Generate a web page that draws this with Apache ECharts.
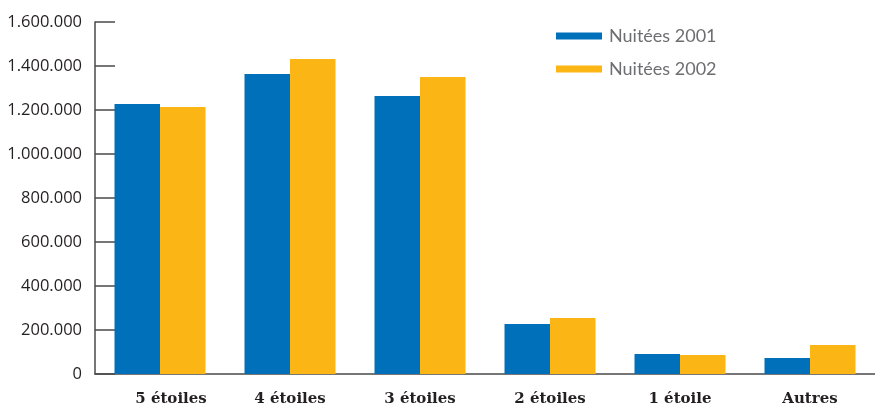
<!DOCTYPE html>
<html>
<head>
<meta charset="utf-8">
<script src="https://cdn.jsdelivr.net/npm/echarts@6/dist/echarts.min.js"></script>
<style>
  html, body { margin: 0; padding: 0; background: #ffffff; }
  #chart { width: 875px; height: 407px; }
</style>
</head>
<body>
<div id="chart"></div>
<script>
// Nuitées par catégorie d'hébergement, 2001 et 2002
const categories = ['5 étoiles', '4 étoiles', '3 étoiles', '2 étoiles', '1 étoile', 'Autres'];
const nuitees2001 = [1227000, 1364000, 1264000, 227000, 91000, 73000];
const nuitees2002 = [1214000, 1432000, 1350000, 254000, 86000, 132000];
const seriesNames = ['Nuitées 2001', 'Nuitées 2002'];

// Thousands separated by dots: 1.600.000
function fmt(v) {
  return String(v).replace(/\B(?=(\d{3})+(?!\d))/g, '.');
}

const chart = echarts.init(document.getElementById('chart'), null, { renderer: 'canvas' });
chart.setOption({
  animation: false,
  backgroundColor: '#ffffff',
  grid: { left: 95, top: 22, width: 783, bottom: 33, containLabel: false },
  legend: {
    orient: 'vertical',
    left: 551,
    top: 21,
    icon: 'rect',
    itemWidth: 46,
    itemHeight: 7,
    itemGap: 13,
    textStyle: { fontFamily: 'Lato', fontSize: 18, color: '#6d6e71', lineHeight: 20, padding: [0, 0, 0, 2] },
    data: seriesNames
  },
  xAxis: {
    type: 'category',
    data: categories,
    axisLine: { lineStyle: { color: '#4a4a4a', width: 1.5 } },
    axisTick: { inside: true, length: 8, lineStyle: { color: '#4a4a4a', width: 1.5 } },
    axisLabel: {
      interval: 0,
      hideOverlap: false,
      margin: 18,
      fontFamily: 'DejaVu Serif',
      fontWeight: 'bold',
      fontSize: 15,
      color: '#231f20',
      // the first category label sits a little to the right of its slot
      formatter: (v, i) => i === 0 ? '{first|' + v + '}' : v,
      rich: {
        first: {
          fontFamily: 'DejaVu Serif',
          fontWeight: 'bold',
          fontSize: 15,
          color: '#231f20',
          padding: [0, 0, 0, 22]
        }
      }
    }
  },
  yAxis: {
    type: 'value',
    min: 0,
    max: 1600000,
    interval: 200000,
    splitLine: { show: false },
    axisLine: { show: true, lineStyle: { color: '#4a4a4a', width: 1.5 } },
    axisTick: { show: true, inside: true, length: 20, lineStyle: { color: '#4a4a4a', width: 1.5 } },
    axisLabel: {
      margin: 13,
      fontFamily: 'Open Sans',
      fontSize: 16.5,
      color: '#231f20',
      formatter: fmt
    }
  },
  series: [
    {
      name: seriesNames[0],
      type: 'bar',
      data: nuitees2001,
      barGap: '0%',
      barCategoryGap: '30%',
      itemStyle: { color: '#0070bb' }
    },
    {
      name: seriesNames[1],
      type: 'bar',
      data: nuitees2002,
      barGap: '0%',
      barCategoryGap: '30%',
      itemStyle: { color: '#fbb615' }
    }
  ]
});
</script>
</body>
</html>
